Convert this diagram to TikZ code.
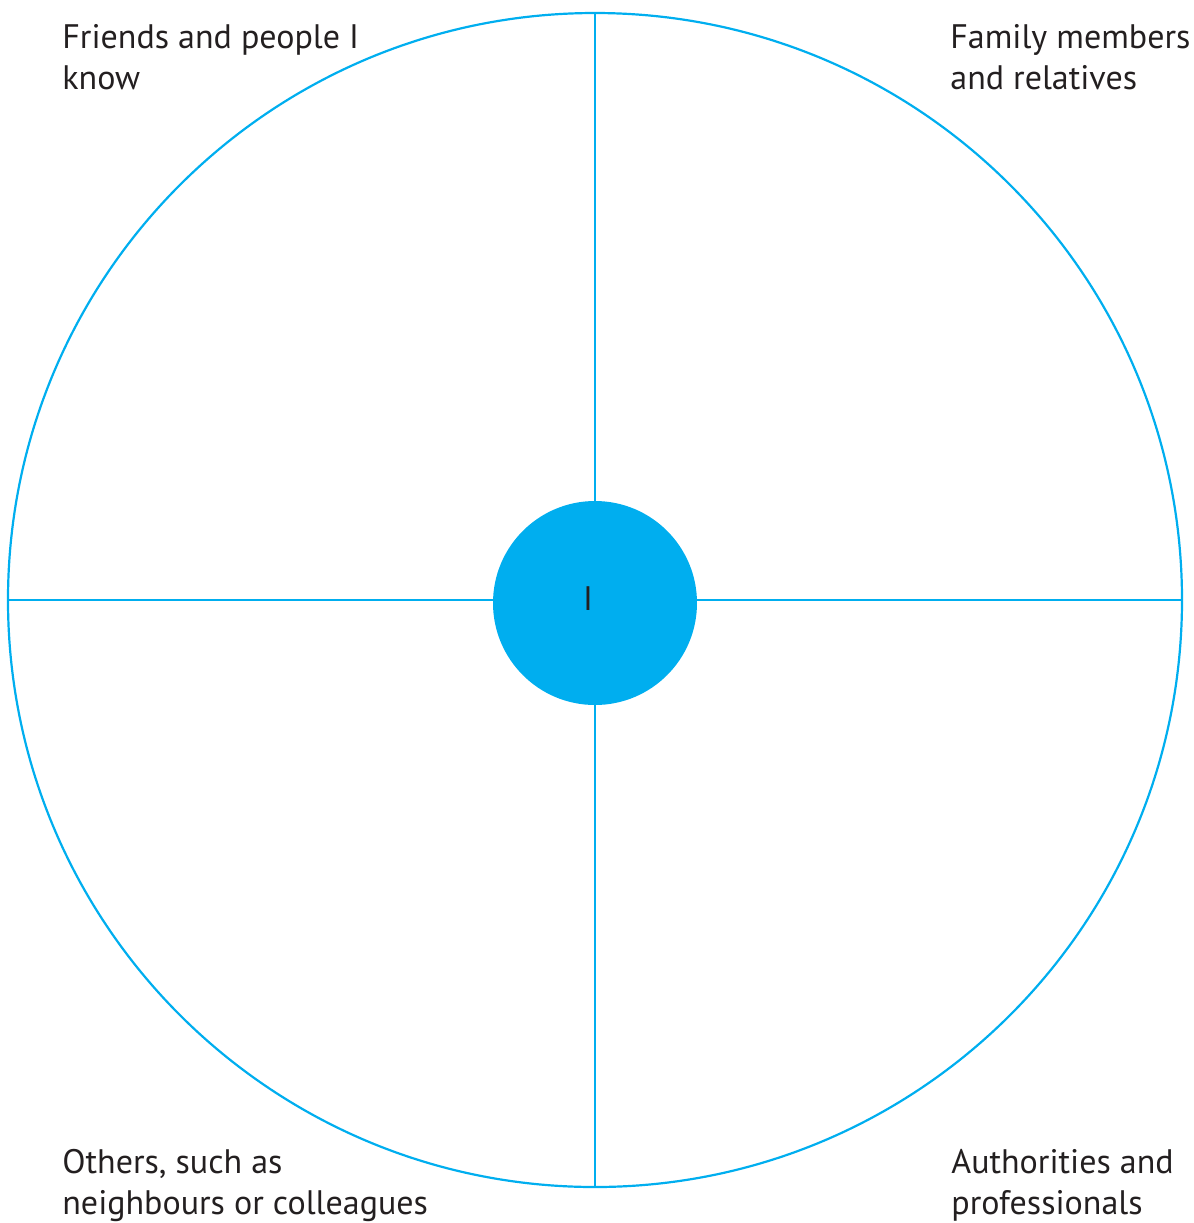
\documentclass[tikz,border=0pt]{standalone}
\usepackage{fontspec}
\setmainfont{PT Sans}
\usepackage{tikz}
\usetikzlibrary{positioning}

\definecolor{ringblue}{HTML}{00AEEF}
\definecolor{labelgray}{HTML}{231F20}
\tikzset{ring/.style={draw=ringblue,line width=1.1pt},
         me/.style={circle,fill=ringblue,minimum size=102pt,inner sep=0pt},
         corner/.style={text=labelgray,align=left,inner sep=0pt,anchor=north west,
                        font=\fontsize{17}{20.5}\selectfont}}

\begin{document}
\begin{tikzpicture}[x=0.5pt,y=-0.5pt]
\useasboundingbox (0,0) rectangle (1194,1223);
\draw[ring] (595,600) circle[radius=587];
\coordinate (top) at (595,13);
\coordinate (bottom) at (595,1187);
\coordinate (left) at (8,600);
\coordinate (right) at (1182,600);
\node[me] (I) at (595,603) {};
\node[text=labelgray,font=\fontsize{17}{20.5}\selectfont] at (588,599) {I};
\draw[ring] (I) -- (top);
\draw[ring] (I) -- (bottom);
\draw[ring] (I.west |- left) -- (left);
\draw[ring] (I.east |- right) -- (right);
\node[corner] (friends) at (62,24) {Friends and people I\\know};
\node[corner] (family) at (950,24) {Family members\\and relatives};
\node[corner] (others) at (62,1149) {Others, such as\\neighbours or colleagues};
\node[corner] (authorities) at (951,1149) {Authorities and\\professionals};
\end{tikzpicture}
\end{document}
